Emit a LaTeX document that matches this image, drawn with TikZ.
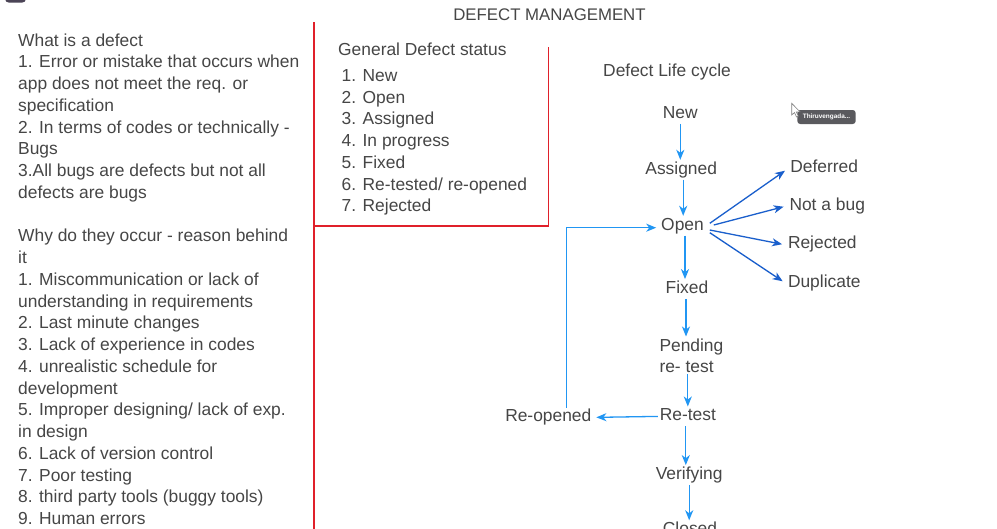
\documentclass[tikz,border=0pt]{standalone}
\usepackage{fontspec}
\setmainfont{Liberation Sans}
\usetikzlibrary{arrows.meta,calc}
\definecolor{txt}{HTML}{464646}
\definecolor{redln}{HTML}{E0202A}
\definecolor{lblue}{HTML}{2196F3}
\definecolor{dblue}{HTML}{1A5FCC}
\definecolor{tipbg}{HTML}{5A5A5E}
\definecolor{blob}{HTML}{4B4456}
\begin{document}
\begin{tikzpicture}[x=1pt,y=-1pt,
  txtblock/.style={anchor=north west, inner sep=0pt, align=left, text=txt,
    font=\fontsize{17.4}{21.75}\selectfont},
  plain/.style={anchor=base west, inner sep=0pt, text=txt, font=\fontsize{17.4}{21.75}\selectfont},
  state/.style={anchor=base, inner sep=1.8pt, text=txt, font=\fontsize{17.4}{21}\selectfont,
    text height=12.2pt, text depth=3.6pt},
  lstate/.style={state, anchor=base west},
  flow/.style={lblue, line width=1.3pt, -{Stealth[length=10pt,width=8pt,inset=3pt]}},
  branch/.style={dblue, line width=1.3pt, shorten >=4pt, -{Stealth[length=10pt,width=8pt,inset=3pt]}},
  redline/.style={redln, line width=1.5pt}
]
\useasboundingbox (0,0) rectangle (997,528);
\fill[white] (0,0) rectangle (997,528);

% top-left window blob
\fill[blob, rounded corners=4pt] (5,-8) rectangle (26,2.7);

% title
\node[anchor=base, inner sep=0pt, text=txt, font=\fontsize{16.8}{20}\selectfont] (title) at (549.5,20.7) {DEFECT MANAGEMENT};

% red dividers
\draw[redline] (314,22) -- (314,532);
\draw[redline] (314,226) -- (548.3,226) -- (548.3,47.3);

% left column
\node[txtblock] (left) at (18,33.3) {What is a defect\\
1. Error or mistake that occurs when\\
app does not meet the req. or\\
specification\\
2. In terms of codes or technically -\\
Bugs\\
3.All bugs are defects but not all\\
defects are bugs\\[21.75pt]
Why do they occur - reason behind\\
it\\
1. Miscommunication or lack of\\
understanding in requirements\\
2. Last minute changes\\
3. Lack of experience in codes\\
4. unrealistic schedule for\\
development\\
5. Improper designing/ lack of exp.\\
in design\\
6. Lack of version control\\
7. Poor testing\\
8. third party tools (buggy tools)\\
9. Human errors};

% general defect status
\node[plain] (gtitle) at (338,55) {General Defect status};
\node[txtblock] (glist) at (341.5,69.3) {1. New\\
2. Open\\
3. Assigned\\
4. In progress\\
5. Fixed\\
6. Re-tested/ re-opened\\
7. Rejected};

% defect life cycle
\node[plain] (ltitle) at (603,76) {Defect Life cycle};

\node[state] (new) at (680.3,118.3) {New};
\node[state] (assigned) at (681.2,174) {Assigned};
\node[state] (open) at (682.5,230) {Open};
\node[state] (fixed) at (687,293.3) {Fixed};
\node[anchor=north west, inner sep=1.8pt, align=left, text=txt,
  font=\fontsize{17.4}{21}\selectfont] (pending) at (657.5,336.5) {Pending\\re- test};
\node[state] (retest) at (687.8,420.7) {Re-test};
\node[state] (verifying) at (689.2,479.3) {Verifying};
\node[state] (closed) at (690,534.5) {Closed};
\node[state] (reopened) at (548.3,421.7) {Re-opened};

\node[lstate] (deferred) at (788.3,172.7) {Deferred};
\node[lstate] (notabug) at (787.5,210) {Not a bug};
\node[lstate] (rejected) at (786,248.3) {Rejected};
\node[lstate] (duplicate) at (786,287.3) {Duplicate};

% flow arrows
\draw[flow] (new.south) -- (new.south |- assigned.north);
\draw[flow] ([xshift=2pt]assigned.south) -- ([xshift=2pt]assigned.south |- open.north);
\draw[flow] ([xshift=2.5pt]open.south) -- ([xshift=2.5pt]open.south |- fixed.north);
\draw[flow] ([xshift=-1pt]fixed.south) -- ([xshift=-1pt]fixed.south |- pending.north);
\draw[flow] (retest.north |- pending.south) -- (retest.north);
\draw[flow] ([xshift=-2pt]retest.south) -- ([xshift=-2pt]retest.south |- verifying.north);
\draw[flow] (verifying.south) -- (verifying.south |- closed.north);
\draw[flow, shorten >=3pt] (retest.west) -- (reopened.east);
\draw[flow, shorten >=3pt] ([xshift=18.4pt]reopened.north) |- ([yshift=-2pt]open.west);

% branch arrows
\draw[branch] ([shift={(4,-2.4)}]open.east) -- (deferred.west);
\draw[branch] ([shift={(8,-0.7)}]open.east) -- (notabug.west);
\draw[branch] ([shift={(4,4.3)}]open.east) -- ([yshift=-1pt]rejected.west);
\draw[branch] ([shift={(4,7)}]open.east) -- ([yshift=-0.5pt]duplicate.west);

% cursor and tooltip
\node[fill=tipbg, rounded corners=3pt, minimum width=58.4pt, minimum height=14pt, inner sep=0pt,
  text=white, font=\fontsize{6.4}{7}\selectfont\bfseries] (tooltip) at (826.5,117) {Thiruvengada...};
\filldraw[fill=white, draw=gray, line width=0.6pt]
  (791.7,103.3) -- (791.7,115) -- (794.5,112.5) -- (796.5,117) -- (798.3,116.2)
  -- (796.3,111.8) -- (800,111.8) -- cycle;
\end{tikzpicture}
\end{document}
